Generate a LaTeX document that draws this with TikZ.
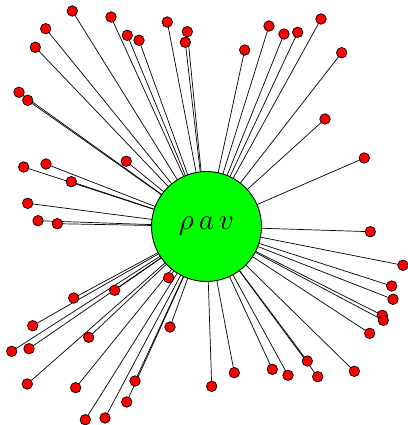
\documentclass[tikz,border=0pt]{standalone}
\usepackage{graphicx}
\pgfdeclarelayer{bg}
\pgfsetlayers{bg,main}
\begin{document}
\begin{tikzpicture}[x=1pt,y=-1pt,
  leaf/.style={circle,draw=black,line width=0.7pt,fill=red,minimum size=10.5pt,inner sep=0pt},
  hub/.style={circle,draw=black,line width=0.9pt,fill={rgb,255:red,0;green,255;blue,0},minimum size=110pt,inner sep=0pt},
  edge/.style={draw=black,line width=0.7pt}]
\useasboundingbox (0,0) rectangle (407,425);
\foreach \i/\x/\y in {
 1/72.3/11, 2/111/17, 3/45.7/28.7, 4/35.3/47.3, 5/127.3/35.3, 6/139/40.3,
 7/167.3/22, 8/187.3/31.7, 9/185.3/42.3, 10/19/92.3, 11/27.7/100.3, 12/126.3/161.3,
 13/23.7/167, 14/46/164, 15/71.3/181.7, 16/27.7/203.3,
 17/244.7/50, 18/269/26, 19/284/34, 20/297.7/32.3, 21/321/19, 22/341.7/52.7,
 23/325/119, 24/364.3/158,
 25/38/220.7, 26/57.3/223.7, 27/168.7/277.7, 28/114.7/290.3, 29/73.7/298, 30/32.7/325.7,
 31/170/327, 32/88.7/337.3, 33/11.7/351.3, 34/29/348.7, 35/27.3/384, 36/75.7/387.7,
 37/135/381, 38/126.7/402, 39/85.3/419.7, 40/105/418,
 41/370.3/231.7, 42/403/265.3, 43/391.7/286, 44/393/299.3, 45/382.3/315.3, 46/383.3/320.3,
 47/369.7/333.3, 48/234.3/372.7, 49/211.7/386.3, 50/272.3/369.3, 51/288/375.3,
 52/307.3/361, 53/317.7/376.7, 54/354.3/371.3}
 {\node[leaf] (d\i) at (\x,\y) {};}
\node[hub] (c) at (206.5,226.5) {\raisebox{-3pt}{\scalebox{2.9}{$\rho\,a\,v$}}};
\begin{pgfonlayer}{bg}
\foreach \i in {1,...,54} {\draw[edge] (d\i.center) -- (c.center);}
\end{pgfonlayer}
\end{tikzpicture}
\end{document}
